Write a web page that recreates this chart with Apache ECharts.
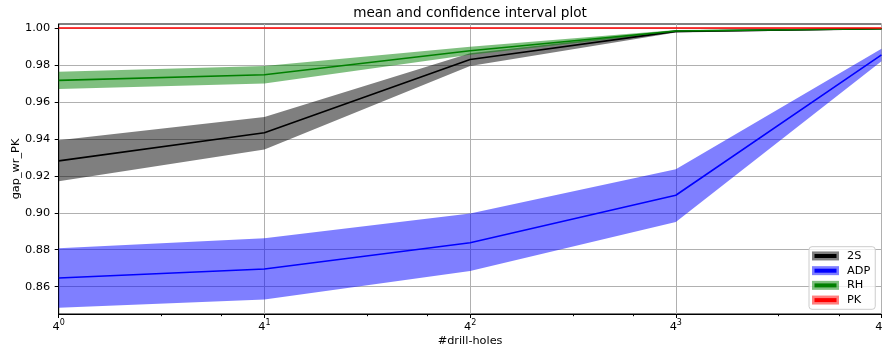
<!DOCTYPE html>
<html><head><meta charset="utf-8">
<script src="https://cdn.jsdelivr.net/npm/echarts@6/dist/echarts.min.js"></script>
<style>html,body{margin:0;padding:0;background:#fff}#c{width:882px;height:349px}</style>
</head><body><div id="c"></div>
<script>
const xValues = [1, 4, 16, 64, 256];
const seriesNames = ['2S', 'ADP', 'RH', 'PK'];
const mean2S  = [0.9281, 0.9433, 0.9830, 0.9982, 0.9996];
const lower2S = [0.9171, 0.9343, 0.9794, 0.9976, 0.9993];
const upper2S = [0.9393, 0.9519, 0.9863, 0.9988, 0.9999];
const meanADP  = [0.8647, 0.8696, 0.8838, 0.9095, 0.9855];
const lowerADP = [0.8486, 0.8530, 0.8685, 0.8950, 0.9820];
const upperADP = [0.8808, 0.8862, 0.8996, 0.9236, 0.9888];
const meanRH  = [0.9717, 0.9747, 0.9877, 0.9984, 0.9996];
const lowerRH = [0.9670, 0.9700, 0.9855, 0.9979, 0.9993];
const upperRH = [0.9763, 0.9794, 0.9899, 0.9989, 0.9999];
const meanPK  = [1.0, 1.0, 1.0, 1.0, 1.0];
const lowerPK = [1.0, 1.0, 1.0, 1.0, 1.0];
const upperPK = [1.0, 1.0, 1.0, 1.0, 1.0];
const yTicks = [0.86, 0.88, 0.90, 0.92, 0.94, 0.96, 0.98, 1.00];
const xTicks = [1, 4, 16, 64, 256];
const xTickBase = ['4', '4', '4', '4', '4'];
const xTickExp = ['0', '1', '2', '3', '4'];
const xMinorTicks = [2, 3, 8, 12, 32, 48, 128, 192];

const lineColors = ['#000000', '#0000ff', '#008000', '#ff0000'];
const bandColors = ['rgba(0,0,0,0.5)', 'rgba(0,0,255,0.5)', 'rgba(0,128,0,0.5)', 'rgba(255,0,0,0.5)'];
const groups = [
  [mean2S, lower2S, upper2S],
  [meanADP, lowerADP, upperADP],
  [meanRH, lowerRH, upperRH],
  [meanPK, lowerPK, upperPK]
];
const FONT = 'DejaVu Sans';

function bandRender(color) {
  return function (params, api) {
    if (params.dataIndexInside !== 0) return null;
    const n = params.dataInsideLength;
    const top = [], bottom = [];
    for (let i = 0; i < n; i++) {
      top.push(api.coord([api.value(0, i), api.value(2, i)]));
      bottom.push(api.coord([api.value(0, i), api.value(1, i)]));
    }
    const pts = top.concat(bottom.reverse());
    return {
      type: 'polygon',
      shape: { points: pts },
      style: { fill: color, stroke: null }
    };
  };
}

const series = [];
groups.forEach((g, i) => {
  const name = seriesNames[i];
  const [mean, lower, upper] = g;
  series.push({
    type: 'custom', name: name, silent: true,
    renderItem: bandRender(bandColors[i]),
    encode: { x: 0, y: [1, 2] },
    data: xValues.map((x, j) => [x, lower[j], upper[j]]),
    itemStyle: { color: bandColors[i] }
  });
  series.push({
    type: 'line', name: name + ' mean', symbol: 'none', silent: true,
    data: xValues.map((x, j) => [x, mean[j]]),
    lineStyle: { color: lineColors[i], width: 1.6 },
    itemStyle: { color: lineColors[i] }
  });
});

const chart = echarts.init(document.getElementById('c'), null, { renderer: 'canvas' });
chart.setOption({
  animation: false,
  backgroundColor: '#ffffff',
  textStyle: { fontFamily: FONT },
  title: {
    text: 'mean and confidence interval plot',
    left: 470, top: 6, padding: 0, textAlign: 'center',
    textStyle: { fontFamily: FONT, fontSize: 13.6, fontWeight: 'normal', color: '#000' }
  },
  grid: {
    left: 58.7, top: 24, width: 822.8, height: 290,
    containLabel: false, outerBoundsMode: 'none',
    show: true, borderColor: '#000', borderWidth: 1, backgroundColor: 'transparent'
  },
  legend: [
    {
      data: seriesNames.map((n, i) => ({ name: n, icon: 'rect', itemStyle: { color: bandColors[i], borderWidth: 0 } })),
      orient: 'vertical', left: 809, top: 246.7,
      padding: [3, 5, 3, 3], itemGap: 2.2, itemWidth: 27, itemHeight: 9,
      backgroundColor: 'rgba(255,255,255,0.8)', borderColor: '#cccccc', borderWidth: 1, borderRadius: 3,
      itemStyle: { borderWidth: 0 },
      textStyle: { fontFamily: FONT, fontSize: 11.3, color: '#000', lineHeight: 12.5, padding: [0, 0, 0, 3] },
      selectedMode: false, z: 10
    },
    {
      data: seriesNames.map((n, i) => ({ name: n + ' mean', icon: 'rect', itemStyle: { color: lineColors[i], borderWidth: 0 } })),
      orient: 'vertical', left: 814.5, top: 254.0,
      padding: 0, itemGap: 10.7, itemWidth: 22, itemHeight: 4,
      itemStyle: { borderWidth: 0 },
      formatter: () => '',
      textStyle: { fontFamily: FONT, fontSize: 11.3, color: 'rgba(0,0,0,0)' },
      selectedMode: false, z: 11
    }
  ],
  xAxis: [
    {
      type: 'log', logBase: 4, min: 1, max: 256,
      name: '#drill-holes', nameLocation: 'middle', nameGap: 21.5, nameMoveOverlap: false,
      nameTextStyle: { fontFamily: FONT, fontSize: 11.3, color: '#000' },
      axisLine: { show: true, lineStyle: { color: '#000', width: 1 } },
      axisTick: { show: true, inside: false, length: 4, customValues: xTicks, lineStyle: { color: '#000', width: 1 } },
      axisLabel: {
        show: true, margin: 4.5, customValues: xTicks,
        fontFamily: FONT, fontSize: 11.3, color: '#000',
        formatter: v => {
          const k = Math.round(Math.log(v) / Math.log(4));
          return '{b|' + xTickBase[k] + '}{s|' + xTickExp[k] + '}';
        },
        rich: {
          b: { fontFamily: FONT, fontSize: 11.3, color: '#000', padding: [3, 0, 0, 0] },
          s: { fontFamily: FONT, fontSize: 8, color: '#000', padding: [0, 0, 5, 0] }
        }
      },
      splitLine: { show: true, lineStyle: { color: '#b0b0b0', width: 1 } },
      minorTick: { show: false }
    },
    {
      type: 'log', logBase: 4, min: 1, max: 256, position: 'bottom', gridIndex: 0,
      axisLine: { show: false },
      axisTick: { show: true, inside: false, length: 2.2, customValues: xMinorTicks, lineStyle: { color: '#000', width: 1 } },
      axisLabel: { show: false },
      splitLine: { show: false }
    }
  ],
  yAxis: {
    type: 'value', min: 0.8452, max: 1.0022,
    name: 'gap_wr_PK', nameLocation: 'middle', nameGap: 37, nameMoveOverlap: false,
    nameTextStyle: { fontFamily: FONT, fontSize: 11.3, color: '#000' },
    axisLine: { show: true, lineStyle: { color: '#000', width: 1 } },
    axisTick: { show: true, inside: false, length: 4, customValues: yTicks, lineStyle: { color: '#000', width: 1 } },
    axisLabel: {
      show: true, margin: 8.5, customValues: yTicks,
      fontFamily: FONT, fontSize: 11.3, color: '#000',
      formatter: v => v.toFixed(2)
    },
    splitLine: { show: true, lineStyle: { color: '#b0b0b0', width: 1 } }
  },
  series: series
});
</script>
</body></html>
